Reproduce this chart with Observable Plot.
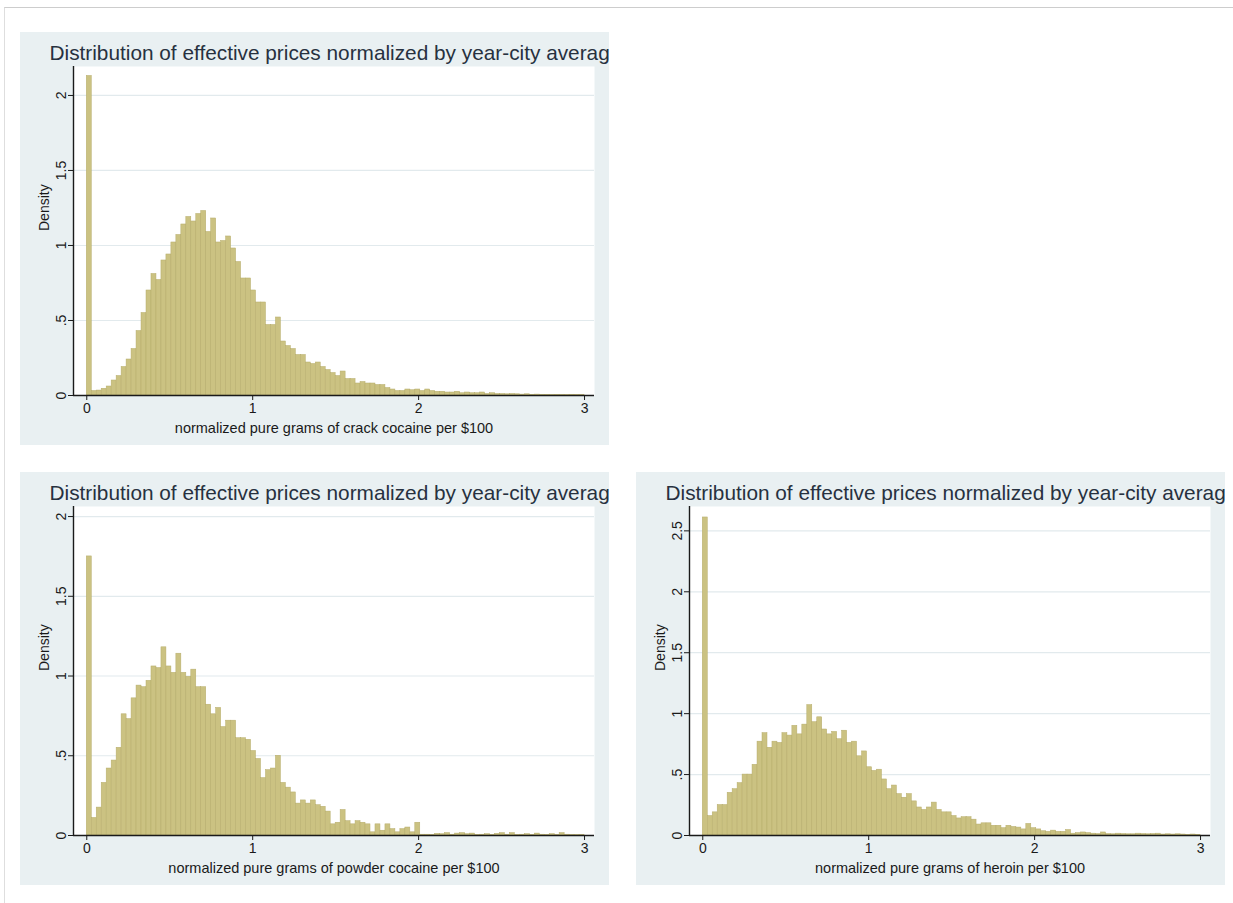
<!DOCTYPE html>
<html>
<head>
<meta charset="utf-8">
<script src="https://cdn.jsdelivr.net/npm/d3@7"></script>
<script src="https://cdn.jsdelivr.net/npm/@observablehq/plot@0.6"></script>
<style>
  html, body { margin: 0; padding: 0; background: #ffffff; }
  body { width: 1233px; height: 903px; position: relative; overflow: hidden;
         font-family: "Liberation Sans", Arial, sans-serif; }
  #sheet { position: absolute; left: 4px; top: 7px; right: 0; bottom: 0;
           border-top: 1px solid #cdcdcd; border-left: 1px solid #dedede; }
  .panel { position: absolute; width: 589px; height: 413px; }
</style>
</head>
<body>
<div id="sheet"></div>
<div class="panel" id="crack" style="left:20px; top:32px;"></div>
<div class="panel" id="powder" style="left:20px; top:472px;"></div>
<div class="panel" id="heroin" style="left:636px; top:472px;"></div>
<script>
// Histogram bins: 100 bins of width 0.03 starting at 0 (normalized pure grams per $100)
const binWidth = 0.03;
const xTicks = [0, 1, 2, 3];
const panelTitle = "Distribution of effective prices normalized by year-city average";
const yAxisTitle = "Density";

// Crack cocaine: density per bin
const crackDensity = [
  2.13, 0.03, 0.033, 0.045, 0.06, 0.10, 0.13, 0.19, 0.24, 0.31,
  0.43, 0.55, 0.70, 0.81, 0.77, 0.90, 0.94, 1.02, 1.07, 1.14,
  1.19, 1.16, 1.21, 1.23, 1.09, 1.18, 1.02, 1.03, 1.06, 0.98,
  0.89, 0.78, 0.78, 0.70, 0.62, 0.62, 0.47, 0.47, 0.52, 0.36,
  0.33, 0.31, 0.27, 0.27, 0.22, 0.21, 0.22, 0.19, 0.17, 0.15,
  0.13, 0.16, 0.11, 0.11, 0.08, 0.09, 0.08, 0.08, 0.07, 0.07,
  0.05, 0.04, 0.03, 0.03, 0.04, 0.035, 0.04, 0.03, 0.04, 0.03,
  0.025, 0.025, 0.02, 0.02, 0.025, 0.015, 0.02, 0.015, 0.015, 0.02,
  0.01, 0.015, 0.01, 0.01, 0.008, 0.01, 0.008, 0.006, 0.008, 0.005,
  0.006, 0.005, 0.005, 0.004, 0.005, 0.004, 0.003, 0.005, 0.004, 0.003
];
const crackYTicks = [0, 0.5, 1, 1.5, 2];
const crackXTitle = "normalized pure grams of crack cocaine per $100";

// Powder cocaine: density per bin
const powderDensity = [
  1.75, 0.11, 0.175, 0.33, 0.42, 0.47, 0.55, 0.76, 0.73, 0.86,
  0.94, 0.93, 0.97, 1.06, 1.05, 1.18, 1.06, 1.02, 1.14, 1.02,
  0.995, 1.04, 0.93, 0.93, 0.82, 0.76, 0.80, 0.68, 0.72, 0.72,
  0.61, 0.61, 0.60, 0.53, 0.48, 0.36, 0.41, 0.42, 0.50, 0.33,
  0.30, 0.27, 0.20, 0.22, 0.20, 0.22, 0.19, 0.18, 0.15, 0.07,
  0.08, 0.16, 0.09, 0.07, 0.09, 0.08, 0.07, 0.02, 0.07, 0.03,
  0.07, 0.04, 0.02, 0.04, 0.05, 0.02, 0.08, 0.005, 0.005, 0.003,
  0.01, 0.008, 0.015, 0.005, 0.012, 0.015, 0.008, 0.012, 0.003, 0.005,
  0.008, 0.003, 0.01, 0.015, 0.005, 0.015, 0.003, 0.005, 0.008, 0.003,
  0.012, 0.005, 0.003, 0.008, 0.003, 0.015, 0.005, 0.003, 0.002, 0.003
];
const powderYTicks = [0, 0.5, 1, 1.5, 2];
const powderXTitle = "normalized pure grams of powder cocaine per $100";

// Heroin: density per bin
const heroinDensity = [
  2.61, 0.16, 0.19, 0.25, 0.25, 0.35, 0.38, 0.43, 0.50, 0.50,
  0.58, 0.77, 0.84, 0.72, 0.77, 0.76, 0.84, 0.82, 0.90, 0.83,
  0.91, 1.07, 0.93, 0.97, 0.87, 0.83, 0.85, 0.79, 0.86, 0.76,
  0.77, 0.65, 0.69, 0.56, 0.53, 0.54, 0.46, 0.38, 0.41, 0.34,
  0.31, 0.34, 0.28, 0.23, 0.21, 0.23, 0.27, 0.21, 0.19, 0.19,
  0.16, 0.14, 0.15, 0.15, 0.13, 0.09, 0.10, 0.10, 0.08, 0.08,
  0.06, 0.08, 0.07, 0.065, 0.05, 0.095, 0.06, 0.05, 0.035, 0.03,
  0.04, 0.03, 0.03, 0.045, 0.015, 0.02, 0.025, 0.02, 0.015, 0.012,
  0.025, 0.012, 0.01, 0.015, 0.012, 0.01, 0.01, 0.015, 0.012, 0.01,
  0.012, 0.015, 0.008, 0.01, 0.008, 0.01, 0.008, 0.005, 0.008, 0.005
];
const heroinYTicks = [0, 0.5, 1, 1.5, 2, 2.5];
const heroinXTitle = "normalized pure grams of heroin per $100";

const panelColor = "#e9f0f2";
const barFill = "#cbc282";
const barEdge = "#b6ac6a";
const gridColor = "#e2eaed";
const axisColor = "#1a1a1a";
const fontStack = "'Liberation Sans', Arial, Helvetica, sans-serif";

// Stata-style tick labels: 0, .5, 1, 1.5 ...
const tickLabel = d => d === 0 ? "0" : (d < 1 ? String(d).slice(1) : String(d));

function histogramPanel(target, density, yMax, yTicks, xTitle) {
  const bins = density.map((v, i) => ({x1: i * binWidth, x2: (i + 1) * binWidth, density: v}));
  const xMin = -0.08, xMax = 3.06;
  const chart = Plot.plot({
    width: 589,
    height: 413,
    marginLeft: 53,
    marginRight: 15,
    marginTop: 34,
    marginBottom: 50,
    style: {
      background: panelColor,
      overflow: "hidden",
      fontFamily: fontStack,
      fontSize: "14px",
      color: axisColor
    },
    x: {domain: [xMin, xMax], ticks: xTicks, tickSize: 5, tickPadding: 3, tickFormat: d => String(d), label: null},
    y: {domain: [0, yMax], ticks: yTicks, tickSize: 5, tickPadding: 3, tickRotate: -90, tickFormat: tickLabel, label: null},
    marks: [
      Plot.frame({fill: "white", stroke: null}),
      Plot.ruleY(yTicks.filter(t => t > 0), {stroke: gridColor, strokeWidth: 1.2}),
      Plot.rectY(bins, {x1: "x1", x2: "x2", y: "density", fill: barFill, stroke: barEdge, strokeWidth: 0.5}),
      Plot.ruleY([0], {stroke: axisColor, strokeWidth: 1.4}),
      Plot.ruleX([xMin], {stroke: axisColor, strokeWidth: 1.4}),
      Plot.text([panelTitle], {
        frameAnchor: "top-left", textAnchor: "start", lineAnchor: "bottom",
        dx: -24, dy: -6.5, fontSize: 20.8, fill: "#27313f"
      }),
      Plot.text([yAxisTitle], {
        frameAnchor: "left", rotate: -90, lineAnchor: "middle",
        dx: -29, fontSize: 14, fill: axisColor
      }),
      Plot.text([xTitle], {
        frameAnchor: "bottom", lineAnchor: "middle",
        dy: 33, fontSize: 14.5, fill: axisColor
      })
    ]
  });
  document.getElementById(target).appendChild(chart);
}

histogramPanel("crack", crackDensity, 2.193, crackYTicks, crackXTitle);
histogramPanel("powder", powderDensity, 2.063, powderYTicks, powderXTitle);
histogramPanel("heroin", heroinDensity, 2.70, heroinYTicks, heroinXTitle);
</script>
</body>
</html>
